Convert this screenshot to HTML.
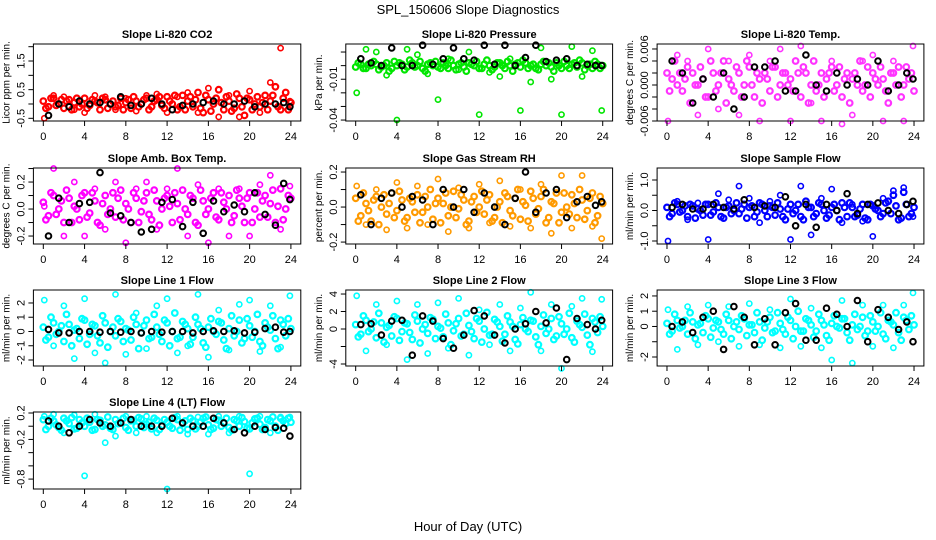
<!DOCTYPE html>
<html><head><meta charset="utf-8"><style>
body{margin:0;background:#fff;}
svg{display:block;font-family:"Liberation Sans",sans-serif;}
</style></head><body>
<svg id="chart" width="936" height="540" viewBox="0 0 936 540">
<text x="468" y="14" text-anchor="middle" font-size="13">SPL_150606  Slope Diagnostics</text>
<text x="468" y="531" text-anchor="middle" font-size="13">Hour of Day (UTC)</text>
</svg>
<script>
const mainHours=[0,0.5,1,1.5,2,2.5,3,3.5,4,4.5,5,5.5,6,6.5,7,7.5,8,8.5,9,9.5,10,10.5,11,11.5,12,12.5,13,13.5,14,14.5,15,15.5,16,16.5,17,17.5,18,18.5,19,19.5,20,20.5,21,21.5,22,22.5,23,23.5,24];
const mainHours2=[0.25,0.75,1.25,1.75,2.25,2.75,3.25,3.75,4.25,4.75,5.25,5.75,6.25,6.75,7.25,7.75,8.25,8.75,9.25,9.75,10.25,10.75,11.25,11.75,12.25,12.75,13.25,13.75,14.25,14.75,15.25,15.75,16.25,16.75,17.25,17.75,18.25,18.75,19.25,19.75,20.25,20.75,21.25,21.75,22.25,22.75,23.25,23.75];
const outerHours=[0.1,1,2,3,4,5,6,7,8,9,10,11,12,13,14,15,16,17,18,19,20,21,22,23,23.9];
const blackHours=[0.5,1.5,2.5,3.5,4.5,5.5,6.5,7.5,8.5,9.5,10.5,11.5,12.5,13.5,14.5,15.5,16.5,17.5,18.5,19.5,20.5,21.5,22.5,23.3,23.9];
const xTicks=[0,4,8,12,16,20,24];

const p1Main=[0.1,-0.1,0.2,0.0,-0.15,0.15,0.05,-0.1,0.2,-0.05,0.1,-0.2,0.15,0.0,-0.1,0.2,0.05,-0.15,0.1,0.0,0.2,-0.1,0.15,-0.05,0.25,0.0,-0.2,0.3,0.1,-0.1,0.4,-0.3,0.15,0.0,0.5,-0.2,0.1,-0.15,0.2,-0.4,0.15,0.0,-0.1,0.3,0.1,0.6,-0.2,0.4,0.05];
const p1Main2=[-0.15,0.2,-0.05,0.15,0.1,-0.2,0.2,0.0,-0.15,0.15,0.05,0.2,-0.15,0.1,-0.05,-0.2,0.15,0.25,-0.1,0.15,-0.2,0.1,0.25,-0.15,0.1,0.3,-0.1,-0.2,0.25,0.15,-0.15,0.3,-0.25,0.2,0.05,0.25,-0.25,0.35,-0.1,0.2,-0.2,0.25,0.05,-0.2,0.3,-0.1,0.2,-0.2];
const p1Outer=[-0.5,0.3,0.25,-0.2,-0.3,0.3,0.25,-0.2,0.2,-0.25,0.3,0.35,-0.3,0.25,0.4,-0.3,0.55,-0.45,0.3,-0.45,0.45,-0.3,0.75,1.95,0.1];
const p1Black=[-0.4,0.0,-0.1,0.1,0.0,0.05,0.0,0.25,-0.05,0.0,0.2,0.0,-0.2,-0.05,0.0,0.05,0.1,0.0,0.0,0.1,-0.1,0.0,0.0,0.05,-0.1];

const p2Main=[-0.001,0.001,-0.002,0.0,0.001,-0.001,0.002,-0.002,0.0,0.001,-0.001,0.002,0.0,-0.002,0.001,0.0,-0.001,0.002,-0.002,0.0,0.001,-0.001,0.002,0.0,-0.002,0.001,0.0,-0.001,0.002,-0.002,0.0,0.001,-0.001,0.002,0.0,-0.002,0.001,0.0,-0.001,0.002,-0.002,0.0,0.001,-0.001,0.002,0.0,-0.002,0.001,0.0];
const p2Main2=[0.002,-0.002,0.001,0.003,-0.003,0.0,-0.004,0.003,0.002,-0.003,0.004,-0.001,0.003,-0.004,0.002,0.003,-0.002,0.0,0.004,-0.003,0.002,-0.004,0.001,0.003,-0.002,0.004,-0.003,0.002,0.0,0.003,-0.004,0.002,0.004,-0.002,0.001,-0.003,0.003,0.002,-0.004,0.0,0.003,-0.002,0.002,0.004,-0.003,0.001,0.003,-0.002];
const p2Outer=[-0.02,0.012,0.01,-0.007,-0.04,0.012,0.008,-0.006,-0.025,0.005,-0.003,0.01,-0.036,-0.005,-0.008,0.005,-0.033,-0.012,0.013,-0.01,-0.036,0.014,-0.008,0.011,-0.033];
const p2Black=[0.005,0.002,0.0,0.013,0.0,0.0,0.015,0.001,0.005,0.013,0.005,0.004,0.015,0.001,0.015,0.0,0.006,0.015,0.003,0.004,0.005,0.0,0.001,0.0,0.0];

const p3Main=[0.002,0.001,0.0,-0.001,0.003,0.002,0.0,0.001,-0.002,0.002,0.0,0.004,0.001,-0.001,0.002,0.0,0.003,-0.002,0.001,0.002,-0.001,0.003,0.0,0.002,0.001,0.004,-0.002,0.002,0.0,-0.001,0.002,0.001,0.003,0.0,-0.002,0.002,0.001,0.0,-0.001,0.003,0.002,0.0,0.001,-0.003,0.002,0.003,0.0,0.001,-0.001];
const p3Main2=[-0.001,0.004,0.002,0.001,-0.003,0.0,0.003,-0.002,0.004,-0.001,0.002,-0.003,0.0,0.003,-0.002,0.004,0.0,0.002,-0.003,0.001,0.003,-0.002,0.002,0.0,-0.001,0.002,0.003,-0.003,0.004,0.0,-0.002,0.002,-0.001,0.003,0.001,-0.003,0.002,0.004,0.0,-0.002,0.001,0.003,-0.001,0.002,0.0,-0.002,0.003,0.002];
const p3Outer=[-0.006,0.005,0.004,-0.005,0.006,-0.004,0.004,-0.005,0.005,-0.006,0.004,0.006,-0.006,0.0065,-0.003,-0.006,0.004,-0.0065,-0.005,0.004,0.005,-0.006,0.004,-0.006,0.0065];
const p3Black=[0.004,0.002,-0.003,0.001,-0.002,0.002,-0.004,-0.002,0.003,0.003,0.004,-0.001,-0.001,0.005,0.0,-0.001,0.002,0.0,0.001,0.0,0.004,-0.001,0.0,0.002,0.001];

const p4Main=[0.05,-0.05,0.1,0.0,-0.1,0.08,0.02,-0.08,0.12,-0.03,0.06,-0.12,0.1,0.0,-0.06,0.14,0.04,-0.1,0.08,-0.02,0.12,-0.08,0.06,0.0,0.1,-0.1,0.04,0.14,-0.04,0.08,-0.12,0.06,0.0,0.12,-0.08,0.05,0.1,-0.05,0.08,-0.1,0.12,0.0,-0.06,0.1,0.04,-0.1,0.15,0.0,0.08];
const p4Main2=[-0.08,0.12,-0.04,0.06,0.14,-0.1,0.0,0.1,-0.06,0.12,-0.1,0.04,-0.04,0.12,0.08,-0.08,0.0,0.12,-0.1,0.06,-0.04,0.14,-0.12,0.08,0.02,0.12,-0.08,0.0,0.1,-0.1,0.14,-0.04,0.08,-0.06,0.12,0.0,-0.1,0.14,0.02,0.08,-0.1,0.12,0.06,-0.06,0.14,0.02,-0.08,0.1];
const p4Outer=[0.02,0.3,-0.2,0.2,-0.2,0.15,-0.15,0.2,-0.25,0.15,0.2,-0.15,0.15,0.3,-0.2,0.18,-0.25,0.15,-0.2,0.15,-0.2,0.18,0.25,-0.15,0.17];
const p4Black=[-0.2,0.08,-0.1,0.04,0.05,0.27,-0.03,-0.05,-0.1,-0.17,-0.15,0.05,0.07,-0.13,0.05,-0.18,0.06,-0.02,0.03,-0.02,0.12,-0.04,-0.12,0.19,0.07];

const p5Main=[0.05,-0.05,0.02,-0.08,0.06,0.0,-0.04,0.08,-0.02,0.04,-0.06,0.03,0.07,-0.03,0.0,-0.07,0.05,0.02,-0.05,0.09,-0.01,0.04,-0.08,0.06,0.0,-0.04,0.07,-0.06,0.03,0.08,-0.02,0.05,-0.07,0.01,0.09,-0.04,0.06,-0.09,0.03,0.08,-0.03,0.0,0.07,-0.06,0.04,-0.02,0.08,-0.05,0.02];
const p5Main2=[-0.08,0.08,-0.02,0.04,-0.1,0.07,0.02,-0.06,0.09,-0.08,0.05,-0.03,-0.09,0.06,0.1,0.02,-0.09,0.08,0.0,-0.06,0.07,-0.1,0.03,-0.03,0.09,0.04,-0.08,0.0,-0.09,0.06,-0.05,0.1,0.03,-0.08,0.05,-0.01,0.1,-0.06,0.02,-0.09,0.08,-0.04,0.02,0.1,-0.07,0.05,-0.09,0.06];
const p5Outer=[0.12,-0.1,0.1,-0.13,0.14,-0.12,0.12,-0.1,0.16,-0.14,0.11,-0.12,0.13,-0.09,0.15,-0.11,0.1,-0.12,0.13,-0.15,0.18,-0.12,0.18,-0.11,-0.18];
const p5Black=[0.07,-0.1,0.05,0.08,0.0,0.06,0.04,-0.1,0.1,0.0,0.1,-0.03,0.08,0.0,-0.1,0.05,0.2,-0.03,0.08,0.1,-0.06,0.03,0.06,0.01,0.03];

const p6Main=[0.1,-0.1,0.2,0.0,-0.2,0.15,0.05,-0.15,0.2,-0.05,0.1,-0.25,0.15,0.0,-0.1,0.2,0.1,-0.2,0.25,0.0,0.15,-0.15,0.05,-0.3,0.2,0.0,-0.2,0.3,0.1,-0.1,0.2,-0.25,0.1,0.0,0.25,-0.2,0.1,-0.15,0.2,-0.3,0.15,0.0,-0.1,0.3,0.5,-0.3,0.6,-0.2,0.1];
const p6Main2=[-0.2,0.25,-0.05,0.15,0.2,-0.25,0.0,0.2,-0.15,0.25,-0.2,0.1,-0.1,0.25,0.05,-0.25,0.15,-0.05,0.2,-0.2,0.1,0.25,-0.2,0.05,-0.1,0.2,-0.3,0.1,-0.2,0.25,0.0,-0.15,0.2,-0.3,0.1,0.25,-0.2,0.05,-0.25,0.2,0.05,-0.2,0.25,-0.1,0.15,-0.25,0.2,-0.1];
const p6Outer=[-1.0,0.3,-0.3,0.25,-0.95,0.55,0.35,0.8,0.4,-0.4,0.3,0.5,-0.95,0.8,-0.8,0.4,0.7,-0.4,0.2,-0.35,-0.85,0.4,0.65,0.75,-0.2];
const p6Black=[0.1,0.2,0.05,0.05,0.2,0.1,0.05,0.35,0.1,0.15,0.1,0.45,-0.5,0.2,-0.55,0.2,0.0,0.55,-0.1,0.2,0.25,0.0,-0.1,0.2,0.3];

const p7Main=[0.3,-0.4,0.6,0.0,-0.7,0.5,0.1,-0.5,0.8,-0.2,0.4,-0.8,0.6,0.0,-0.3,0.7,0.2,-0.6,0.5,-0.1,0.8,-0.4,0.3,-0.7,0.6,0.0,-0.5,0.7,0.2,-0.4,0.5,-0.8,0.3,0.0,0.7,-0.6,0.2,-0.3,0.8,-0.5,0.4,0.0,-0.7,0.6,0.1,-0.5,0.8,-0.3,0.2];
const p7Main2=[-0.6,1.0,-0.2,0.4,1.2,-1.0,0.2,0.9,-0.9,0.5,-0.3,1.1,-1.1,0.3,0.9,-0.7,0.1,1.0,-1.2,0.4,-0.5,1.2,-0.2,0.8,-1.0,1.3,-0.4,0.5,-0.9,1.0,0.2,-1.1,0.9,-0.2,0.6,-1.2,1.1,0.0,-0.8,0.9,-0.4,1.2,-1.0,0.3,1.1,-1.2,0.5,0.9];
const p7Outer=[2.2,-1.0,1.8,-1.9,2.3,-1.5,-2.2,2.6,-1.6,1.3,-1.2,1.8,2.3,-1.5,-1.0,2.6,-1.8,1.5,-1.3,1.9,2.2,-1.4,1.8,-1.1,2.5];
const p7Black=[0.15,-0.1,-0.1,0.0,0.0,-0.05,0.0,-0.05,0.0,-0.1,0.0,-0.05,0.0,0.0,-0.1,0.0,0.05,0.0,0.05,-0.1,-0.05,0.2,0.3,-0.05,0.0];

const p8Main=[0.5,-0.6,1.0,0.0,-1.0,0.7,0.2,-0.8,1.2,-0.3,0.6,-1.2,0.9,0.0,-0.5,1.1,0.3,-0.9,0.7,-0.2,1.2,-0.6,0.4,-1.1,0.9,0.0,-0.7,1.1,0.3,-0.6,0.8,-1.2,0.5,0.0,1.0,-0.9,0.3,-0.5,1.2,-0.8,0.6,0.0,-1.0,0.9,0.2,-0.7,1.2,-0.4,0.3];
const p8Main2=[-0.9,1.5,-0.3,0.8,1.8,-1.5,0.4,1.4,-1.3,0.7,-0.4,1.6,-1.6,0.5,1.3,-1.1,0.1,1.7,-1.8,0.6,-0.8,1.8,-0.3,1.2,-1.5,1.9,-0.6,0.8,-1.4,1.5,0.3,-1.7,1.3,-0.3,0.9,-1.8,1.6,0.0,-1.2,1.4,-0.6,1.8,-1.5,0.5,1.7,-1.8,0.8,1.4];
const p8Outer=[3.8,-2.5,2.8,-1.8,3.2,-3.5,2.8,-2.8,3.0,-2.2,3.5,-3.0,2.2,-1.8,2.8,-2.5,2.4,4.2,-2.5,2.8,-4.5,2.6,3.5,-2.6,3.4];
const p8Black=[0.5,0.6,-0.7,0.9,1.0,-3.0,1.5,0.9,-1.1,-2.2,-0.7,2.1,1.5,-0.7,-1.6,0.0,0.6,2.0,0.7,2.4,-3.5,1.2,0.5,0.0,1.0];

const p9Main=[0.2,-0.3,0.4,0.0,-0.5,0.3,0.1,-0.4,0.5,-0.1,0.3,-0.5,0.4,0.0,-0.2,0.5,0.1,-0.4,0.3,-0.1,0.6,-0.3,0.2,-0.5,0.4,0.0,-0.3,0.5,0.1,-0.3,0.4,-0.6,0.2,0.0,0.5,-0.4,0.1,-0.2,0.6,-0.3,0.3,0.0,-0.5,0.4,0.1,-0.4,0.6,-0.2,0.1];
const p9Main2=[-0.5,0.8,-0.1,0.4,0.9,-0.8,0.2,0.7,-0.7,0.4,-0.2,0.8,-0.8,0.3,0.7,-0.6,0.1,0.9,-0.9,0.3,-0.4,0.9,-0.2,0.6,-0.8,1.0,-0.3,0.4,-0.7,0.8,0.1,-0.9,0.7,-0.1,0.5,-0.9,0.8,0.0,-0.6,0.7,-0.3,0.9,-0.8,0.3,0.9,-0.9,0.4,0.7];
const p9Outer=[1.1,-1.5,1.3,-1.2,1.4,-1.0,1.3,-1.3,1.5,-1.2,1.1,-1.4,1.8,-1.3,1.2,-1.4,-2.2,1.7,-2.4,1.4,-1.3,1.4,-1.4,1.4,2.2];
const p9Black=[0.0,0.3,-0.4,0.6,1.0,-1.5,1.3,0.6,-1.2,0.5,-1.2,0.9,1.5,-0.9,-0.9,1.2,0.8,0.0,1.7,-1.0,1.1,0.6,-0.2,0.3,-1.0];

const p10Main=[0.1,0.0,0.08,-0.02,0.12,0.04,-0.04,0.1,0.0,0.06,-0.05,0.09,0.02,-0.03,0.1,0.05,-0.02,0.08,0.0,0.11,0.03,-0.04,0.09,0.01,0.06,-0.03,0.1,0.04,-0.05,0.08,0.0,0.12,0.02,-0.03,0.09,0.05,-0.02,0.1,0.0,0.07,-0.04,0.11,0.03,-0.02,0.08,0.0,0.12,0.04,0.06];
const p10Main2=[-0.05,0.12,0.02,-0.06,0.08,0.13,-0.03,0.05,0.12,-0.06,0.1,0.0,0.14,-0.05,0.04,0.12,-0.06,0.09,0.13,-0.02,0.06,0.12,-0.05,0.1,0.0,0.13,-0.06,0.08,0.12,-0.04,0.06,0.14,-0.05,0.1,0.0,0.12,-0.06,0.08,0.13,-0.03,0.05,0.12,-0.05,0.1,0.14,-0.06,0.08,0.12];
const p10Outer=[0.15,0.18,-0.1,0.17,-0.75,0.18,-0.25,-0.15,0.15,-0.1,0.15,-0.1,-0.95,0.15,-0.12,0.14,-0.12,0.15,-0.1,0.15,-0.72,0.15,-0.1,0.14,0.14];
const p10Black=[0.08,0.0,-0.1,0.0,0.1,0.05,0.0,0.05,0.1,0.0,0.0,0.0,0.12,0.05,0.0,0.0,0.12,0.05,-0.05,-0.1,0.0,-0.05,-0.02,-0.03,-0.15];

const p1Ticks=[-0.5,0,0.5,1,1.5,2]; const p1Labels=["-0.5","","0.5","","1.5",""];
const p2Ticks=[-0.04,-0.03,-0.02,-0.01,0,0.01]; const p2Labels=["-0.04","","","-0.01","",""];
const p3Ticks=[-0.006,-0.004,-0.002,0,0.002,0.004,0.006]; const p3Labels=["-0.006","","","0.000","","","0.006"];
const p4Ticks=[-0.2,-0.1,0,0.1,0.2,0.3]; const p4Labels=["-0.2","","0.0","","0.2",""];
const p5Ticks=[-0.2,-0.1,0,0.1,0.2]; const p5Labels=["-0.2","","0.0","","0.2"];
const p6Ticks=[-1,-0.5,0,0.5,1]; const p6Labels=["-1.0","","0.0","","1.0"];
const p7Ticks=[-2,-1,0,1,2]; const p7Labels=["-2","-1","0","1","2"];
const p8Ticks=[-4,-2,0,2,4]; const p8Labels=["-4","","0","2","4"];
const p9Ticks=[-2,-1,0,1,2]; const p9Labels=["-2","","0","1","2"];
const p10Ticks=[-0.8,-0.6,-0.4,-0.2,0,0.2]; const p10Labels=["-0.8","","","-0.2","","0.2"];

const colX=[[33.4,300.8],[345.8,612.6],[657.1,923.9]];
const rowY=[[44,121],[168,244],[290,366],[412,489]];
const panels=[
 {name:"co2",title:"Slope Li-820 CO2",yl:"Licor ppm per min.",c:0,r:0,lo:-0.594,hi:2.094,col:"#ff0000",m:p1Main,m2:p1Main2,o:p1Outer,b:p1Black,t:p1Ticks,tl:p1Labels},
 {name:"pressure",title:"Slope Li-820 Pressure",yl:"kPa per min.",c:1,r:0,lo:-0.0407,hi:0.0159,col:"#00e600",m:p2Main,m2:p2Main2,o:p2Outer,b:p2Black,t:p2Ticks,tl:p2Labels},
 {name:"li820-temp",title:"Slope Li-820 Temp.",yl:"degrees C per min.",c:2,r:0,lo:-0.006,hi:0.00683,col:"#ff33ff",m:p3Main,m2:p3Main2,o:p3Outer,b:p3Black,t:p3Ticks,tl:p3Labels},
 {name:"amb-box-temp",title:"Slope Amb. Box Temp.",yl:"degrees C per min.",c:0,r:1,lo:-0.259,hi:0.304,col:"#ff00ff",m:p4Main,m2:p4Main2,o:p4Outer,b:p4Black,t:p4Ticks,tl:p4Labels},
 {name:"gas-stream-rh",title:"Slope Gas Stream RH",yl:"percent per min.",c:1,r:1,lo:-0.211,hi:0.223,col:"#ff9a00",m:p5Main,m2:p5Main2,o:p5Outer,b:p5Black,t:p5Ticks,tl:p5Labels},
 {name:"sample-flow",title:"Slope Sample Flow",yl:"ml/min per min.",c:2,r:1,lo:-1.098,hi:1.393,col:"#0000ff",m:p6Main,m2:p6Main2,o:p6Outer,b:p6Black,t:p6Ticks,tl:p6Labels},
 {name:"line1-flow",title:"Slope Line 1 Flow",yl:"ml/min per min.",c:0,r:2,lo:-2.42,hi:2.91,col:"#00ffff",m:p7Main,m2:p7Main2,o:p7Outer,b:p7Black,t:p7Ticks,tl:p7Labels},
 {name:"line2-flow",title:"Slope Line 2 Flow",yl:"ml/min per min.",c:1,r:2,lo:-4.23,hi:4.46,col:"#00ffff",m:p8Main,m2:p8Main2,o:p8Outer,b:p8Black,t:p8Ticks,tl:p8Labels},
 {name:"line3-flow",title:"Slope Line 3 Flow",yl:"ml/min per min.",c:2,r:2,lo:-2.59,hi:2.39,col:"#00ffff",m:p9Main,m2:p9Main2,o:p9Outer,b:p9Black,t:p9Ticks,tl:p9Labels},
 {name:"line4-flow",title:"Slope Line 4 (LT) Flow",yl:"ml/min per min.",c:0,r:3,lo:-0.95,hi:0.215,col:"#00ffff",m:p10Main,m2:p10Main2,o:p10Outer,b:p10Black,t:p10Ticks,tl:p10Labels}
];
const NS="http://www.w3.org/2000/svg";
const svg=document.getElementById("chart");
function mk(tag,attrs,parent){const e=document.createElementNS(NS,tag);for(const k in attrs)e.setAttribute(k,attrs[k]);(parent||svg).appendChild(e);return e;}
panels.forEach(p=>{
  const [L,R]=colX[p.c],[T,B]=rowY[p.r];
  const x0=L+(R-L)*0.96/25.92;
  const xs=h=>x0+h*(R-L)/25.92;
  const ys=v=>B-(v-p.lo)/(p.hi-p.lo)*(B-T);
  const g=mk("g",{});
  
  
  const tt=mk("text",{x:(L+R)/2,y:T-6,"text-anchor":"middle","font-size":"11","font-weight":"bold"},g);
  tt.textContent=p.title;
  
  
  const yt=mk("text",{transform:`translate(${L-24},${(T+B)/2}) rotate(-90)`,"text-anchor":"middle","font-size":"10"},g);
  yt.textContent=p.yl;
  
  
  const pts=mk("g",{fill:"none"},g);
  
  
  function dot(h,v,color,r,sw){const c=mk("circle",{cx:xs(h).toFixed(1),cy:ys(v).toFixed(1),r:r,stroke:color,"stroke-width":sw},pts);
    
    }
  p.o.forEach((v,i)=>dot(outerHours[i],v,p.col,2.6,1.6));
  p.m.forEach((v,i)=>dot(mainHours[i],v,p.col,2.8,2.2));
  p.m2.forEach((v,i)=>dot(mainHours2[i],v,p.col,2.8,2.2));
  p.b.forEach((v,i)=>dot(blackHours[i],v,"#000",2.8,2));
  const box=mk("rect",{x:L,y:T,width:R-L,height:B-T,fill:"none",stroke:"#000","stroke-width":1},g);
  
  
  xTicks.forEach(h=>{
    mk("line",{x1:xs(h),x2:xs(h),y1:B,y2:B+5,stroke:"#000"},g);
    const t=mk("text",{x:xs(h),y:B+19,"text-anchor":"middle","font-size":"11"},g);
    t.textContent=h;
    
    
  });
  p.t.forEach((v,i)=>{
    mk("line",{x1:L-5,x2:L,y1:ys(v),y2:ys(v),stroke:"#000"},g);
    if(p.tl[i]){const t=mk("text",{transform:`translate(${L-9},${ys(v)}) rotate(-90)`,"text-anchor":"middle","font-size":"11"},g);
      t.textContent=p.tl[i];
      
      }
  });
});
</script>
</body></html>
